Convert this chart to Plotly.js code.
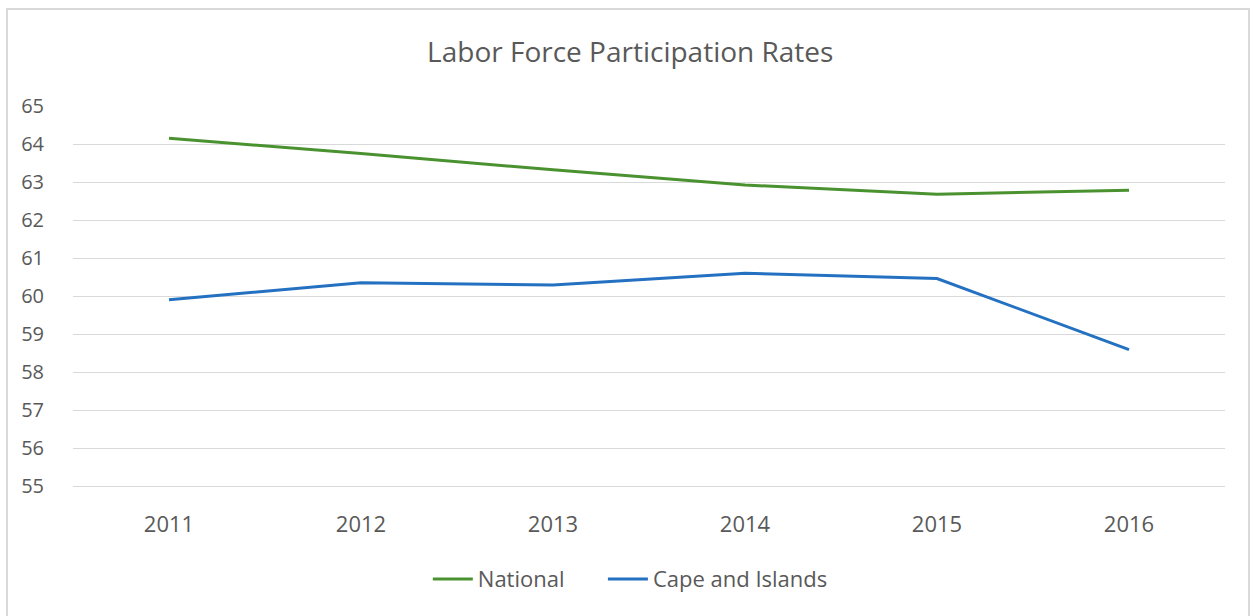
<!DOCTYPE html>
<html>
<head>
<meta charset="utf-8">
<script src="https://cdn.plot.ly/plotly-3.0.1.min.js"></script>
<style>
  html, body { margin: 0; padding: 0; background: #ffffff; overflow: hidden; }
  #chart { width: 1253px; height: 616px; }
  #frame { position: absolute; left: 6px; top: 8px; width: 1244px; height: 640px;
           border: 2px solid #d9d9d9; pointer-events: none; box-sizing: border-box; }
</style>
</head>
<body>
<div id="chart"></div>
<div id="frame"></div>
<script>
const years = ['2011', '2012', '2013', '2014', '2015', '2016'];
const national = [64.15, 63.75, 63.32, 62.92, 62.68, 62.78];
const capeAndIslands = [59.9, 60.35, 60.29, 60.6, 60.46, 58.59];
const yTicks = [55, 56, 57, 58, 59, 60, 61, 62, 63, 64, 65];

const font = '"Open Sans", Lato, "Liberation Sans", sans-serif';
const legendFont = { family: font, size: 22, color: '#595959' };

const traces = [
  {
    x: years, y: national, type: 'scatter', mode: 'lines', name: 'National',
    line: { color: '#4a922f', width: 3 }, legend: 'legend'
  },
  {
    x: years, y: capeAndIslands, type: 'scatter', mode: 'lines', name: 'Cape and Islands',
    line: { color: '#2471c2', width: 3 }, legend: 'legend2'
  }
];

const layout = {
  width: 1253, height: 616,
  margin: { l: 73, r: 28, t: 106, b: 130 },
  paper_bgcolor: '#ffffff', plot_bgcolor: '#ffffff',
  font: { family: font, color: '#595959' },
  title: {
    text: 'Labor Force Participation Rates',
    font: { family: font, size: 28, color: '#595959' },
    x: 0.503, xanchor: 'center', y: 0.915, yanchor: 'middle'
  },
  xaxis: {
    type: 'category', range: [-0.5, 5.5],
    showgrid: false, zeroline: false,
    showline: true, linecolor: '#d9d9d9', linewidth: 1,
    ticks: 'outside', ticklen: 19, tickcolor: 'rgba(0,0,0,0)',
    tickfont: { family: font, size: 22, color: '#595959' }
  },
  yaxis: {
    range: [55, 65], tickvals: yTicks, ticktext: yTicks.map(String),
    showgrid: true, gridcolor: '#d9d9d9', gridwidth: 1,
    zeroline: false, showline: false,
    ticks: 'outside', ticklen: 24, tickcolor: 'rgba(0,0,0,0)',
    tickfont: { family: font, size: 20, color: '#595959' }
  },
  showlegend: true,
  legend: {
    orientation: 'h', x: 0.308, xanchor: 'left', y: -0.245, yanchor: 'middle',
    font: legendFont, itemwidth: 40, bgcolor: 'rgba(0,0,0,0)'
  },
  legend2: {
    orientation: 'h', x: 0.46, xanchor: 'left', y: -0.245, yanchor: 'middle',
    font: legendFont, itemwidth: 40, bgcolor: 'rgba(0,0,0,0)'
  }
};

Plotly.newPlot('chart', traces, layout, { displayModeBar: false, staticPlot: true });
</script>
</body>
</html>
